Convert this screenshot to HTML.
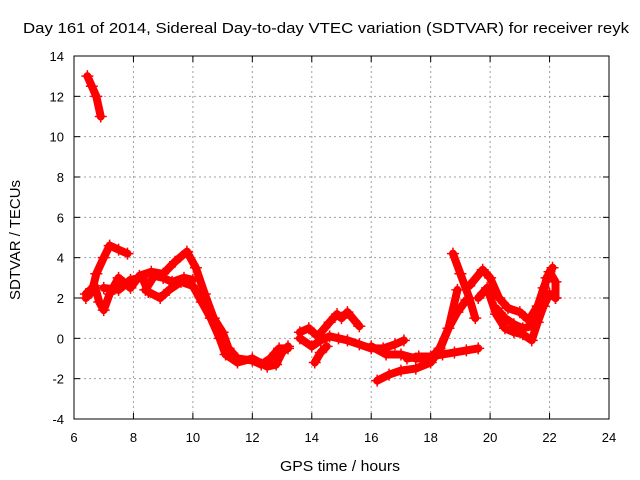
<!DOCTYPE html>
<html><head><meta charset="utf-8"><style>
body{margin:0;background:#fff}
svg{display:block;font-family:"Liberation Sans",sans-serif}
</style></head><body>
<svg id="chart" width="640" height="480" viewBox="0 0 640 480">
<rect width="640" height="480" fill="#fff"/>
<text x="23" y="33" font-size="15" textLength="606" lengthAdjust="spacingAndGlyphs">Day 161 of 2014, Sidereal Day-to-day VTEC variation (SDTVAR) for receiver reyk</text>
<text x="280" y="471" font-size="15" textLength="120" lengthAdjust="spacingAndGlyphs">GPS time / hours</text>
<text transform="translate(20,300) rotate(-90)" font-size="15" textLength="120" lengthAdjust="spacingAndGlyphs">SDTVAR / TECUs</text>
<g id="grid"></g><g id="marks"></g><g id="axes"></g>
</svg>
<script>
const xTicks=[6,8,10,12,14,16,18,20,22,24];
const yTicks=[-4,-2,0,2,4,6,8,10,12,14];
const track1=[[6.45,13.0],[6.6,12.5],[6.75,12.0],[6.9,11.0]];
const track2=[[6.4,2.0],[6.6,2.3],[6.75,3.2],[7.0,4.0],[7.2,4.6],[7.5,4.4],[7.8,4.2]];
const track3=[[6.4,2.2],[6.7,2.6],[6.85,1.8],[7.0,1.4],[7.2,2.2],[7.5,3.0],[7.9,2.5],[8.2,3.1],[8.6,3.3],[9.0,3.2],[9.4,3.8],[9.8,4.3],[10.1,3.5],[10.4,2.2],[10.7,1.0],[11.0,0.3],[11.2,-0.5],[11.5,-1.0],[12.0,-1.1],[12.3,-1.3],[12.6,-1.0],[12.9,-0.5],[13.2,-0.5]];
const track4=[[7.0,2.5],[7.5,2.4],[7.9,2.9],[8.3,3.0],[8.5,2.3],[8.9,2.0],[9.2,2.4],[9.6,2.8],[10.0,2.6],[10.3,1.8],[10.6,1.0],[10.9,0.0],[11.1,-0.8],[11.5,-1.2],[12.0,-1.0],[12.5,-1.4],[12.8,-1.3],[13.0,-0.7],[13.2,-0.4]];
const track5=[[8.4,2.4],[8.7,3.1],[9.0,3.0],[9.3,2.8],[9.7,3.0],[10.0,2.9]];
const track6=[[13.6,0.3],[13.9,0.5],[14.2,0.1],[14.6,0.8],[14.85,1.2],[15.0,1.0],[15.2,1.3],[15.6,0.6]];
const track7=[[13.6,0.0],[14.0,-0.4],[14.3,-0.1],[14.6,0.1],[14.9,0.0],[15.2,-0.1],[15.6,-0.3],[16.0,-0.5],[16.4,-0.5],[16.8,-0.3],[17.1,-0.1]];
const track8=[[14.1,-1.2],[14.3,-0.7],[14.5,-0.4]];
const track9=[[16.0,-0.4],[16.5,-0.8],[17.0,-0.8],[17.5,-1.0],[18.0,-1.0],[18.3,-0.5],[18.6,0.5],[18.9,2.4]];
const track10=[[18.75,4.2],[19.0,3.2],[19.3,2.0],[19.5,1.0]];
const track11=[[16.2,-2.1],[16.6,-1.8],[17.0,-1.6],[17.5,-1.5],[18.0,-1.2],[18.3,-0.6],[18.6,0.5],[18.9,1.3],[19.2,1.9]];
const track12=[[17.2,-1.0],[17.6,-0.9],[18.0,-0.9],[18.4,-0.8],[18.8,-0.7],[19.2,-0.6],[19.6,-0.5]];
const track13=[[19.3,2.6],[19.75,3.4],[20.0,3.0],[20.3,2.0],[20.6,1.5],[21.0,1.3],[21.3,0.9],[21.6,1.6],[21.8,2.5],[22.0,3.3],[22.2,2.8],[22.2,2.0]];
const track14=[[19.6,2.0],[19.9,2.5],[20.2,1.2],[20.5,0.5],[20.8,0.3],[21.1,0.2],[21.4,-0.1],[21.6,0.8],[21.8,1.6],[22.0,2.2],[22.2,2.0]];
const track15=[[20.2,1.5],[20.5,1.0],[20.8,0.7],[21.1,0.5],[21.4,0.6],[21.7,1.5],[21.9,3.0],[22.1,3.5]];
const tracks=[track1,track2,track3,track4,track5,track6,track7,track8,track9,track10,track11,track12,track13,track14,track15];

const L=74,R=609,T=56,B=419;
const X=v=>L+(v-6)/(24-6)*(R-L);
const Y=v=>B-(v+4)/(14+4)*(B-T);
const NS='http://www.w3.org/2000/svg';
const grid=document.getElementById('grid'),marks=document.getElementById('marks'),axes=document.getElementById('axes');
function mk(tag,attrs,parent){const e=document.createElementNS(NS,tag);for(const k in attrs)e.setAttribute(k,attrs[k]);parent.appendChild(e);return e;}
xTicks.forEach(t=>{
  if(t>6&&t<24){const g=mk('line',{x1:X(t),x2:X(t),y1:T,y2:B,stroke:'#a0a0a0','stroke-dasharray':'2,3'},grid);
  
  }
  mk('line',{x1:X(t),x2:X(t),y1:B,y2:B-6,stroke:'#000'},axes);
  mk('line',{x1:X(t),x2:X(t),y1:T,y2:T+6,stroke:'#000'},axes);
  const tx=mk('text',{x:X(t),y:B+23,'font-size':13,'text-anchor':'middle'},axes);tx.textContent=t;
  
  
});
yTicks.forEach(t=>{
  if(t>-4&&t<14){const g=mk('line',{x1:L,x2:R,y1:Y(t),y2:Y(t),stroke:'#a0a0a0','stroke-dasharray':'2,3'},grid);
  
  }
  mk('line',{x1:L,x2:L+6,y1:Y(t),y2:Y(t),stroke:'#000'},axes);
  mk('line',{x1:R,x2:R-6,y1:Y(t),y2:Y(t),stroke:'#000'},axes);
  const tx=mk('text',{x:L-10,y:Y(t)+5,'font-size':13,'text-anchor':'end'},axes);tx.textContent=t;
  
  
});
const frame=mk('rect',{x:L,y:T,width:R-L,height:B-T,fill:'none',stroke:'#000'},axes);


tracks.forEach(tr=>{
  const pl=mk('polyline',{points:tr.map(p=>X(p[0])+','+Y(p[1])).join(' '),fill:'none',stroke:'#f00','stroke-width':8,'stroke-linejoin':'round','stroke-linecap':'round'},marks);
  
  
  tr.forEach(p=>{
    const x=X(p[0]),y=Y(p[1]);
    const m=mk('path',{d:`M${x-6},${y}H${x+6}M${x},${y-6}V${y+6}`,stroke:'#f00','stroke-width':1.5},marks);
    
    
  });
});
</script>
</body></html>
